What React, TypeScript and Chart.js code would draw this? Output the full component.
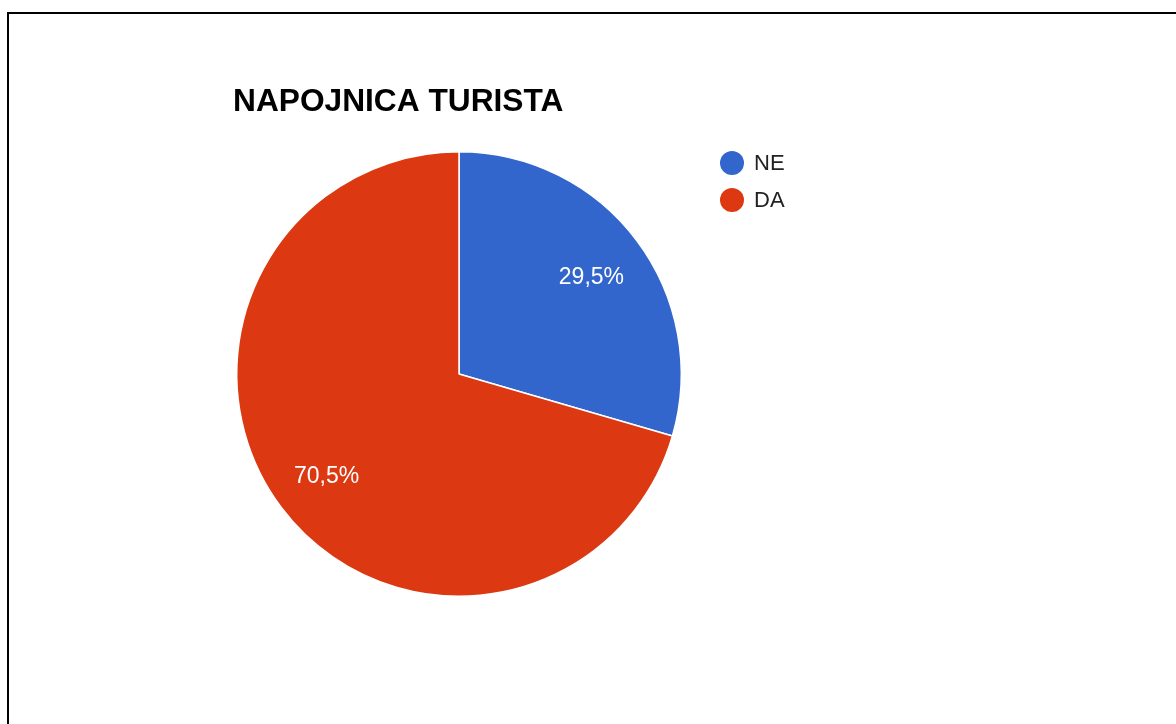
import React, { useEffect, useRef } from "react";
import { Chart, registerables } from "chart.js";

Chart.register(...registerables);

const titleText = "NAPOJNICA TURISTA";
const categories = ["NE", "DA"];
const values = [29.5, 70.5];
const colors = ["#3366CC", "#DC3912"];

const FONT = "Arial, 'Liberation Sans', sans-serif";

const overlayPlugin = {
  id: "overlay",
  afterDatasetsDraw(chart: any) {
    const ctx = chart.ctx;
    const meta = chart.getDatasetMeta(0);
    const total = values.reduce((a, b) => a + b, 0);
    ctx.save();
    // slice labels
    meta.data.forEach((arc: any, i: number) => {
      const p = arc.getProps(["x", "y", "startAngle", "endAngle", "outerRadius"], true);
      const mid = (p.startAngle + p.endAngle) / 2;
      const r = p.outerRadius * 0.745;
      const x = p.x + Math.cos(mid) * r;
      const y = p.y + Math.sin(mid) * r;
      ctx.fillStyle = "#ffffff";
      ctx.font = `23px ${FONT}`;
      ctx.textAlign = "center";
      ctx.textBaseline = "middle";
      const pct = ((values[i] / total) * 100).toFixed(1).replace(".", ",") + "%";
      ctx.fillText(pct, x, y + 3);
    });
    // title
    ctx.fillStyle = "#000000";
    ctx.font = `bold 31.7px ${FONT}`;
    ctx.textAlign = "left";
    ctx.textBaseline = "alphabetic";
    ctx.fillText(titleText, 233, 111);
    // legend
    categories.forEach((c, i) => {
      const cy = 163 + i * 37;
      ctx.beginPath();
      ctx.arc(732, cy, 12, 0, Math.PI * 2);
      ctx.fillStyle = colors[i];
      ctx.fill();
      ctx.fillStyle = "#222222";
      ctx.font = `22px ${FONT}`;
      ctx.textAlign = "left";
      ctx.textBaseline = "middle";
      ctx.fillText(c, 754, cy + 1);
    });
    ctx.restore();
  },
};

export default function App() {
  const ref = useRef<HTMLCanvasElement>(null);
  useEffect(() => {
    if (!ref.current) return;
    const chart = new Chart(ref.current, {
      type: "pie",
      data: {
        labels: categories,
        datasets: [
          {
            data: values,
            backgroundColor: colors,
            borderColor: "#ffffff",
            borderWidth: 1.5,
          },
        ],
      },
      options: {
        animation: false,
        responsive: false,
        maintainAspectRatio: false,
        layout: {
          padding: { left: 235, right: 1176 - 683, top: 151, bottom: 724 - 597 },
        },
        plugins: {
          legend: { display: false },
          title: { display: false },
          tooltip: { enabled: false },
        },
      },
      plugins: [overlayPlugin],
    });
    return () => chart.destroy();
  }, []);

  return (
    <div style={{ position: "fixed", left: 0, top: 0, width: 1176, height: 724, background: "#fff", overflow: "hidden" }}>
      <canvas ref={ref} width={1176} height={724} style={{ position: "absolute", left: 0, top: 0, width: 1176, height: 724 }} />
      <div
        style={{
          position: "absolute",
          left: 7,
          top: 12,
          width: 1176,
          height: 724,
          borderLeft: "2px solid #000",
          borderTop: "2px solid #000",
          pointerEvents: "none",
        }}
      />
    </div>
  );
}
